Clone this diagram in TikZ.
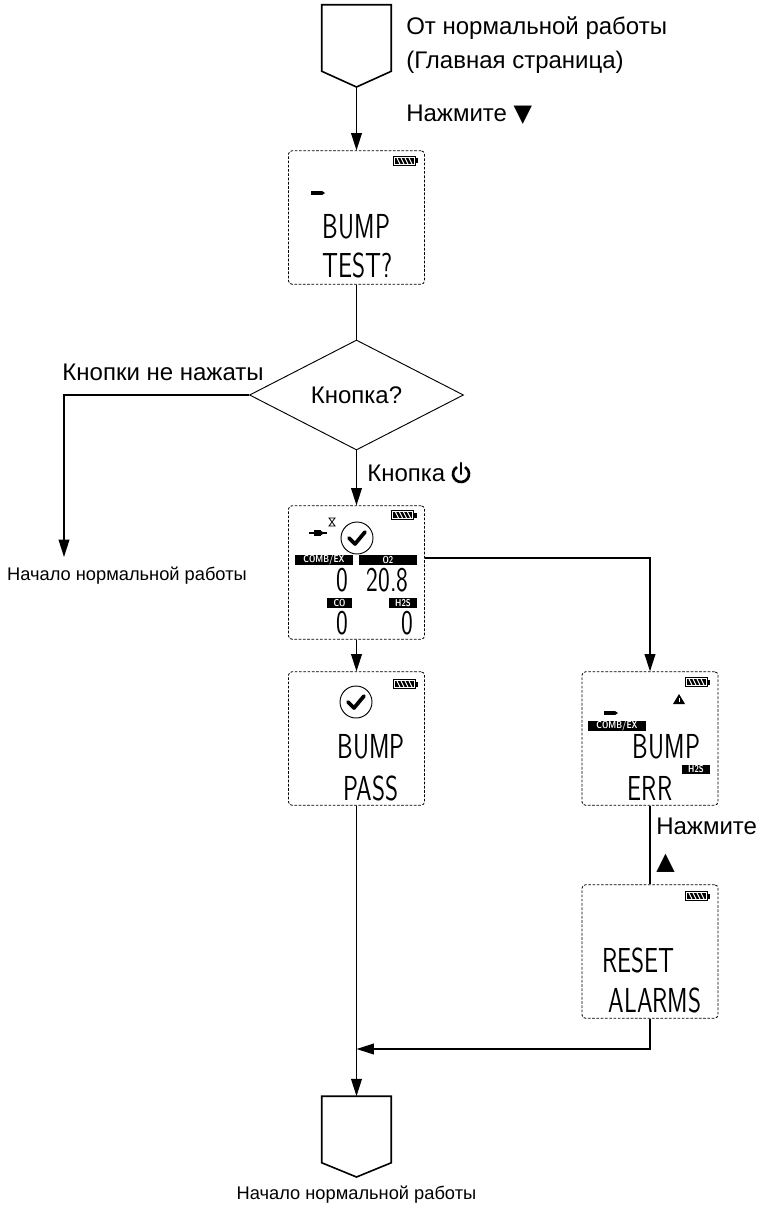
\documentclass[tikz,border=0pt]{standalone}
\usepackage{fontspec}
\setmainfont{Liberation Sans}
\newfontfamily\glyphs{DejaVu Sans}
\usepackage{graphicx}
\usetikzlibrary{shapes.geometric,arrows.meta}

\newcommand\lcd[1]{\scalebox{0.72}[1]{\sffamily\fontsize{26}{26}\selectfont #1}}
\newcommand\tagtext[1]{\scalebox{0.8}[1]{\sffamily\bfseries\fontsize{7.5}{7.5}\selectfont #1}}

\tikzset{
  screen/.style={draw, dash pattern=on 2pt off 1.2pt, line width=0.6pt,
    rounded corners=2.5pt, minimum width=102pt, minimum height=100pt, inner sep=0pt},
  term/.style={minimum width=51.75pt, minimum height=49.5pt, inner sep=0pt},
  decide/.style={diamond, draw, line width=0.7pt, minimum width=160.5pt,
    minimum height=82.5pt, inner sep=0pt, font=\fontsize{18}{21}\selectfont},
  wire/.style={line width=1.2pt},
  flow/.style={wire, -{Triangle[length=13pt,width=8pt]}},
  lbl/.style={inner sep=0pt, font=\fontsize{18}{26}\selectfont},
  small/.style={inner sep=0pt, font=\fontsize{13.7}{16}\selectfont},
  tag/.style={fill=black, text=white, inner sep=0pt, minimum height=7pt},
  battery/.pic={
    \draw[line width=0.7pt] (-12,-4.5) rectangle (10,4.5);
    \fill (10,-2.5) rectangle (13,2.5);
    \fill (-10.5,-3) rectangle (8.5,3);
    \draw[white, line width=0.8pt] (-8,-3) -- (-5,3) (-4,-3) -- (-1,3)
      (0,-3) -- (3,3) (4,-3) -- (7,3);
  },
  okmark/.pic={
    \draw[line width=0.7pt] (0,0) circle[radius=16];
    \draw[line width=2.8pt, line cap=round, line join=round] (-8,0) -- (-2,6) -- (8,-6);
  },
  dashmark/.pic={
    \fill (-7,-2) rectangle (4,2);
    \fill (4,-2) -- (7,0) -- (4,2) -- cycle;
  },
  plugmark/.pic={
    \draw[line width=0.8pt] (-9,0) -- (9,0);
    \fill (-4,-3) rectangle (3,3);
    \fill (3,-2) -- (7,0) -- (3,2) -- cycle;
  },
  glassmark/.pic={
    \draw[line width=0.6pt] (-3,-4) -- (3,-4) -- (-3,4) -- (3,4) -- cycle;
  },
  warnmark/.pic={
    \fill (-6,4) -- (6,4) -- (0,-6) -- cycle;
    \draw[white, line width=0.6pt] (0,-2) -- (0,1.5);
  },
  power/.pic={
    \draw[line width=2pt] ([shift={(120:6pt)}]0,0) arc[start angle=120, end angle=420, radius=6pt];
    \draw[line width=2pt, line cap=round] (0,0) -- (0,-11);
  }
}

\begin{document}
\begin{tikzpicture}[x=0.75pt, y=-0.75pt]
  \useasboundingbox (0,0) rectangle (761,1209);

  \node[term] (entry) at (356.5,38) {};
  \coordinate (entry tip) at (356.5,87);
  \draw[wire] (entry.north west) -- (entry.north east) -- (entry.south east)
    -- (entry tip) -- (entry.south west) -- cycle;

  \node[term] (exit) at (356.5,1129.5) {};
  \coordinate (exit tip) at (356.5,1177);
  \draw[wire] (exit.north west) -- (exit.north east) -- (exit.south east)
    -- (exit tip) -- (exit.south west) -- cycle;

  \begin{scope}[every node/.style=screen]
    \node (test)  at (356.5,217.5) {};
    \node (run)   at (356.5,572.5) {};
    \node (pass)  at (356.5,738.5) {};
    \node (err)   at (650,738.5)   {};
    \node (reset) at (650,951.5)   {};
  \end{scope}

  \node[decide] (ask) at (356.5,395) {Кнопка?};

  % screen contents
  \pic at (405,161) {battery};
  \pic at (403.5,515) {battery};
  \pic at (405,684) {battery};
  \pic at (697,682) {battery};
  \pic at (697,896) {battery};

  \pic at (318,193) {dashmark};
  \pic at (611,713) {dashmark};
  \pic at (318,533) {plugmark};
  \pic at (332,522) {glassmark};
  \pic at (679,700) {warnmark};
  \pic at (357,538) {okmark};
  \pic at (356,702) {okmark};

  \begin{scope}[every node/.style={inner sep=0pt}]
    \node (t1) at (356.5,226.5) {\lcd{BUMP}};
    \node (t2) at (357.5,265)   {\lcd{TEST?}};
    \node (r1) at (342.5,580)   {\lcd{0}};
    \node (r2) at (387.5,580)   {\lcd{20.8}};
    \node (r3) at (342.5,623.5) {\lcd{0}};
    \node (r4) at (407,623.5)   {\lcd{0}};
    \node (p1) at (371,746.5)   {\lcd{BUMP}};
    \node (p2) at (371,788.5)   {\lcd{PASS}};
    \node (e1) at (666.5,746.5) {\lcd{BUMP}};
    \node (e2) at (650,788.5)   {\lcd{ERR}};
    \node (s1) at (638.5,960)   {\lcd{RESET}};
    \node (s2) at (655,1000)    {\lcd{ALARMS}};
  \end{scope}

  \node[tag, minimum width=43.5pt] (tagcomb) at (324,560)   {\tagtext{COMB/EX}};
  \node[tag, minimum width=43.5pt] (tago2)   at (388,560)   {\tagtext{O2}};
  \node[tag, minimum width=18.75pt] (tagco)  at (339.5,603) {\tagtext{CO}};
  \node[tag, minimum width=21pt] (tagh2s)    at (403,603)   {\tagtext{H2S}};
  \node[tag, minimum width=43.5pt] (tagcomb2) at (617,726)  {\tagtext{COMB/EX}};
  \node[tag, minimum width=21pt] (tagh2s2)   at (696,769.5) {\tagtext{H2S}};

  % labels
  \node[lbl, anchor=west, align=left] (fromlbl) at (406,45)
    {От нормальной работы\\(Главная страница)};
  \node[lbl, anchor=west] (downlbl) at (406,115) {Нажмите {\glyphs ▼}};
  \node[lbl] (nolbl) at (163,372) {Кнопки не нажаты};
  \node[lbl, anchor=west] (btnlbl) at (367,473) {Кнопка};
  \pic at (461,474) {power};
  \node[lbl, anchor=west, align=left] (uplbl) at (656,845) {Нажмите\\{\glyphs ▲}};
  \node[small] (done1) at (127,576) {Начало нормальной работы};
  \node[small] (done2) at (356.5,1195) {Начало нормальной работы};

  \coordinate (nobtn) at (64,557);
  \coordinate (join) at (356.5,1049);

  % connectors
  \draw[flow] (entry tip) -- (test);
  \draw[wire] (test) -- (ask);
  \draw[flow] (ask.west) -| (nobtn);
  \draw[flow] (ask) -- (run);
  \draw[flow] ([yshift=10.9pt]run.east) -| (err.north);
  \draw[flow] (run) -- (pass);
  \draw[wire] (err) -- (reset);
  \draw[flow] (reset.south) |- (join);
  \draw[flow] (pass) -- (exit);

\end{tikzpicture}
\end{document}
